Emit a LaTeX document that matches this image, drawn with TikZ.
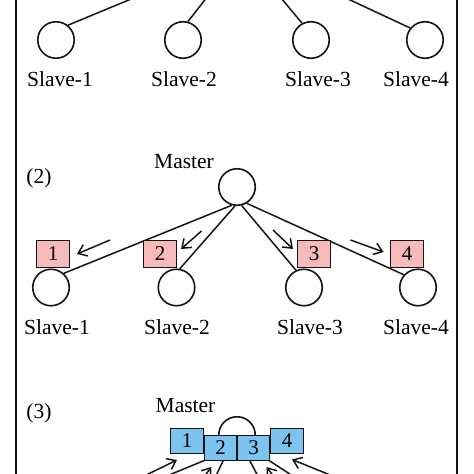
\documentclass[tikz,border=0pt]{standalone}
\usepackage{fontspec}
\setmainfont{Liberation Serif}
\usetikzlibrary{arrows.meta}
\definecolor{pinkfill}{RGB}{246,186,186}
\definecolor{bluefill}{RGB}{125,195,240}
\definecolor{edge}{RGB}{20,20,20}
\begin{document}
\begin{tikzpicture}[x=1pt,y=-1pt,
  lbl/.style={font=\fontsize{21.5}{25}\selectfont, inner sep=0pt},
  slavec/.style={circle, draw=edge, line width=1.6pt, minimum size=36.5pt, inner sep=0pt},
  conn/.style={draw=edge, line width=1.5pt},
  pbox/.style={rectangle, draw=edge, line width=1.3pt, fill=pinkfill, minimum width=33pt, minimum height=26.5pt, inner sep=0pt, font=\fontsize{21}{24}\selectfont},
  bbox/.style={rectangle, draw=edge, line width=1.3pt, fill=bluefill, minimum width=32.5pt, minimum height=25.5pt, inner sep=0pt, font=\fontsize{21}{24}\selectfont},
  msgarrow/.style={draw=edge, line width=1.5pt, -{Straight Barb[length=8pt,width=12pt]}},
  frame/.style={draw=edge, line width=1.4pt}
]
\useasboundingbox (0,0) rectangle (474,474);
\clip (0,0) rectangle (474,474);
\fill[white] (0,0) rectangle (474,474);
\draw[frame] (16,-10) rectangle (457,490);

% ---------- section 1 ----------
\node[slavec] (a1) at (56,40) {};
\node[slavec] (a2) at (183,40) {};
\node[slavec] (a3) at (311,40) {};
\node[slavec] (a4) at (425,40) {};
\coordinate (t1) at (148,-8);
\coordinate (t2) at (211,-8);
\coordinate (t3) at (276,-8);
\coordinate (t4) at (333,-8);
\draw[conn] (a1.51) -- (t1);
\draw[conn] (a2.75) -- (t2);
\draw[conn] (a3.118) -- (t3);
\draw[conn] (a4.141) -- (t4);
\node[lbl, anchor=base] (la1) at (60,86) {Slave-1};
\node[lbl, anchor=base] (la2) at (184,86) {Slave-2};
\node[lbl, anchor=base] (la3) at (318,86) {Slave-3};
\node[lbl, anchor=base] (la4) at (416,86) {Slave-4};

% ---------- section 2 ----------
\node[lbl, anchor=base] (m2l) at (184,168) {Master};
\node[lbl] (n2) at (39,178) {(2)};
\node[slavec] (m2) at (237,187) {};
\node[slavec] (b1) at (51,287.5) {};
\node[slavec] (b2) at (176.5,287.5) {};
\node[slavec] (b3) at (304,287.5) {};
\node[slavec] (b4) at (418,287.5) {};
\draw[conn] (m2.254) -- (b1.48);
\draw[conn] (m2.264) -- (b2.80);
\draw[conn] (m2.284) -- (b3.115);
\draw[conn] (m2.301) -- (b4.138);
\node[pbox] (p1) at (53,254) {1};
\node[pbox] (p2) at (160,254) {2};
\node[pbox] (p3) at (314,254) {3};
\node[pbox] (p4) at (407,254) {4};
\coordinate (r1s) at (110,240);   \coordinate (r1e) at (77,254);
\coordinate (r2s) at (201.5,231); \coordinate (r2e) at (181,249);
\coordinate (r3s) at (273,230);   \coordinate (r3e) at (293,249);
\coordinate (r4s) at (350.5,240); \coordinate (r4e) at (383.5,252);
\draw[msgarrow] (r1s) -- (r1e);
\draw[msgarrow] (r2s) -- (r2e);
\draw[msgarrow] (r3s) -- (r3e);
\draw[msgarrow] (r4s) -- (r4e);
\node[lbl, anchor=base] (lb1) at (57,334) {Slave-1};
\node[lbl, anchor=base] (lb2) at (177,334) {Slave-2};
\node[lbl, anchor=base] (lb3) at (310,334) {Slave-3};
\node[lbl, anchor=base] (lb4) at (416,334) {Slave-4};

% ---------- section 3 ----------
\node[lbl, anchor=base] (m3l) at (185.5,412) {Master};
\node[lbl] (n3) at (39,413) {(3)};
\node[slavec] (m3) at (237,435) {};
\coordinate (c1) at (157,480);
\coordinate (c2) at (214,480);
\coordinate (c3) at (260,480);
\coordinate (c4) at (299,480);
\draw[conn] (c1) -- (m3.238);
\draw[conn] (c2) -- (m3.240);
\draw[conn] (c3) -- (m3.296);
\draw[conn] (c4) -- (m3.315);
\node[bbox] (q1) at (187,441) {1};
\node[bbox] (q2) at (220.5,448) {2};
\node[bbox] (q3) at (253.5,448) {3};
\node[bbox] (q4) at (287,441) {4};
\coordinate (s1s) at (140,478);   \coordinate (s1e) at (177,460);
\coordinate (s2s) at (200,482);   \coordinate (s2e) at (211.5,467);
\coordinate (s3s) at (278,482);   \coordinate (s3e) at (266.5,467);
\coordinate (s4s) at (340,479);   \coordinate (s4e) at (292,459.5);
\draw[msgarrow] (s1s) -- (s1e);
\draw[msgarrow] (s2s) -- (s2e);
\draw[msgarrow] (s3s) -- (s3e);
\draw[msgarrow] (s4s) -- (s4e);
\end{tikzpicture}
\end{document}
